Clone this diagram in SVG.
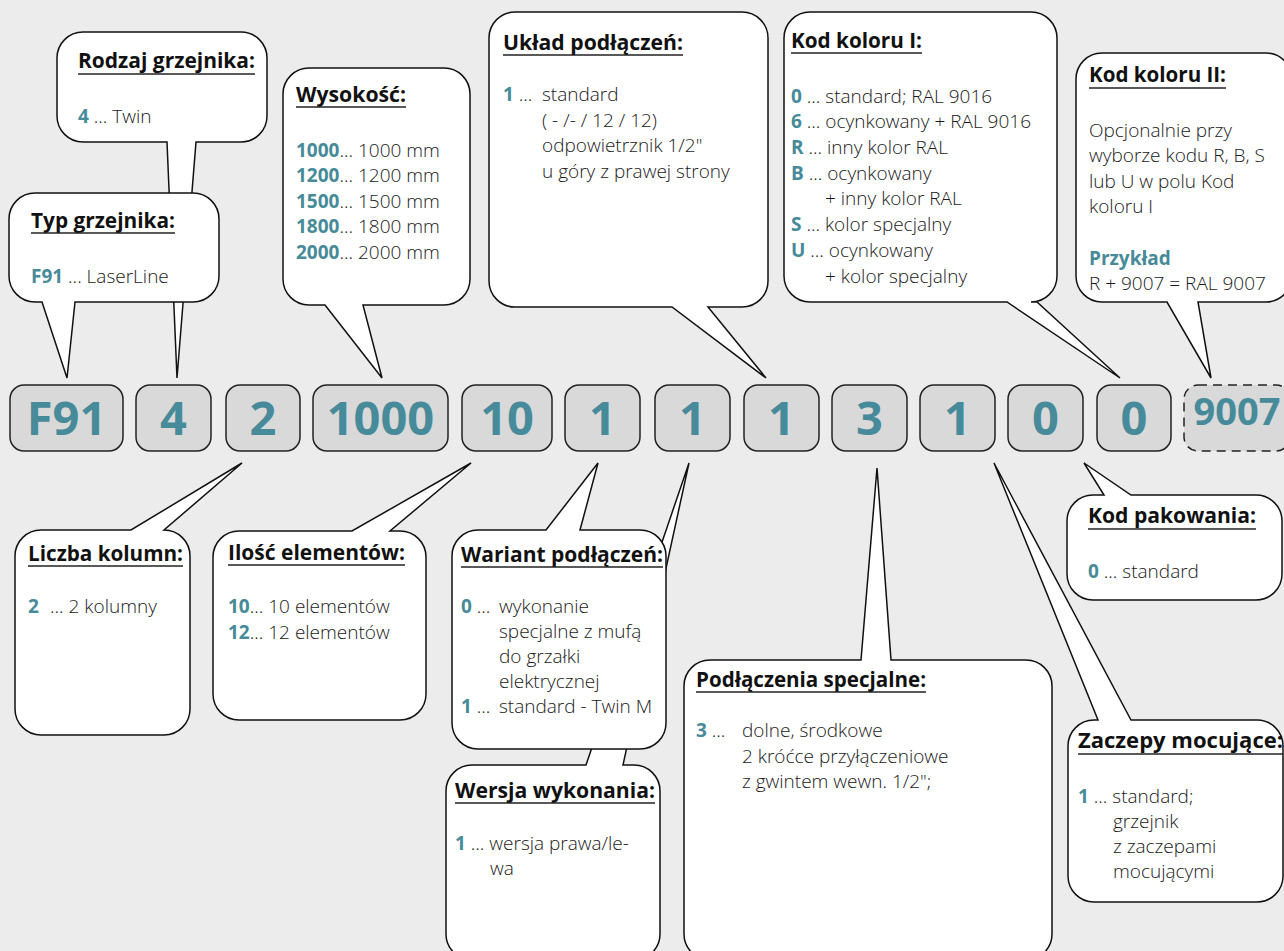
<svg xmlns="http://www.w3.org/2000/svg" width="1284" height="951" viewBox="0 0 1284 951">
<style>
.bg{fill:#ececec}
.b{fill:#fff;stroke:#111;stroke-width:1.5;stroke-linejoin:miter}
.box{fill:#d9d9d9;stroke:#222;stroke-width:1.5}
.dash{stroke-dasharray:9 6}
.code{font-family:"Open Sans","DejaVu Sans",sans-serif;font-weight:700;font-size:47px;fill:#478a99;text-anchor:middle}
.t{font-family:"Open Sans","DejaVu Sans",sans-serif;font-weight:700;font-size:22px;fill:#111}
.u{stroke:#222;stroke-width:1.5}
.x{font-family:"Open Sans","DejaVu Sans",sans-serif;font-weight:300;font-size:19px;fill:#1a1a1a}
.k{font-weight:700;fill:#478a99}
</style>
<rect class="bg" x="0" y="0" width="1284" height="951"/>

<g id="code-boxes">
  <g id="box-f91"><rect class="box" x="10" y="385" width="113" height="66" rx="14"/><text class="code" x="66.5" y="435">F91</text></g>
  <g id="box-4"><rect class="box" x="136" y="385" width="75" height="66" rx="14"/><text class="code" x="173.5" y="435">4</text></g>
  <g id="box-2"><rect class="box" x="226" y="385" width="74" height="66" rx="14"/><text class="code" x="263" y="435">2</text></g>
  <g id="box-1000"><rect class="box" x="313" y="385" width="135" height="66" rx="14"/><text class="code" x="380.5" y="435">1000</text></g>
  <g id="box-10"><rect class="box" x="462" y="385" width="90" height="66" rx="14"/><text class="code" x="507" y="435">10</text></g>
  <g id="box-1a"><rect class="box" x="565" y="385" width="75" height="66" rx="14"/><text class="code" x="602.5" y="435">1</text></g>
  <g id="box-1b"><rect class="box" x="655" y="385" width="75" height="66" rx="14"/><text class="code" x="692.5" y="435">1</text></g>
  <g id="box-1c"><rect class="box" x="744" y="385" width="75" height="66" rx="14"/><text class="code" x="781.5" y="435">1</text></g>
  <g id="box-3"><rect class="box" x="832" y="385" width="75" height="66" rx="14"/><text class="code" x="869.5" y="435">3</text></g>
  <g id="box-1d"><rect class="box" x="920" y="385" width="75" height="66" rx="14"/><text class="code" x="957.5" y="435">1</text></g>
  <g id="box-0a"><rect class="box" x="1008" y="385" width="75" height="66" rx="14"/><text class="code" x="1045.5" y="435">0</text></g>
  <g id="box-0b"><rect class="box" x="1097" y="385" width="74" height="66" rx="14"/><text class="code" x="1134" y="435">0</text></g>
  <g id="box-9007"><rect class="box dash" x="1184" y="385" width="106" height="66" rx="14"/><text class="code" x="1237" y="425" style="font-size:38px">9007</text></g>
</g>

<g id="connectors">
  <!-- callout tails are drawn as part of each callout outline -->
</g>

<g id="rodzaj">
  <path class="b" d="M83 32 H241 A26 26 0 0 1 267 58 V116 A26 26 0 0 1 241 142 H196 L177 378 L167 142 H83 A26 26 0 0 1 57 116 V58 A26 26 0 0 1 83 32 Z"/>
  <text class="t" x="78" y="68" textLength="177" lengthAdjust="spacingAndGlyphs">Rodzaj grzejnika:</text>
  <line class="u" x1="78" y1="74" x2="255" y2="74"/>
  <text class="x" x="78" y="123"><tspan class="k">4</tspan> ... Twin</text>
</g>

<g id="typ">
  <path class="b" d="M35 193 H193 A26 26 0 0 1 219 219 V276 A26 26 0 0 1 193 302 H75 L67 378 L42 302 H35 A26 26 0 0 1 9 276 V219 A26 26 0 0 1 35 193 Z"/>
  <text class="t" x="31" y="228" textLength="144" lengthAdjust="spacingAndGlyphs">Typ grzejnika:</text>
  <line class="u" x1="31" y1="233" x2="175" y2="233"/>
  <text class="x" x="31" y="283"><tspan class="k">F91</tspan> ... LaserLine</text>
</g>

<g id="wysokosc">
  <path class="b" d="M309 68 H444 A26 26 0 0 1 470 94 V279 A26 26 0 0 1 444 305 H363 L382 378 L325 305 H309 A26 26 0 0 1 283 279 V94 A26 26 0 0 1 309 68 Z"/>
  <text class="t" x="296" y="102" textLength="110" lengthAdjust="spacingAndGlyphs">Wysokość:</text>
  <line class="u" x1="296" y1="107" x2="406" y2="107"/>
  <text class="x" x="296" y="157"><tspan class="k">1000</tspan>... 1000 mm</text>
  <text class="x" x="296" y="182"><tspan class="k">1200</tspan>... 1200 mm</text>
  <text class="x" x="296" y="208"><tspan class="k">1500</tspan>... 1500 mm</text>
  <text class="x" x="296" y="233"><tspan class="k">1800</tspan>... 1800 mm</text>
  <text class="x" x="296" y="259"><tspan class="k">2000</tspan>... 2000 mm</text>
</g>

<g id="uklad">
  <path class="b" d="M515 12 H742 A26 26 0 0 1 768 38 V281 A26 26 0 0 1 742 307 H708 L766 378 L672 307 H515 A26 26 0 0 1 489 281 V38 A26 26 0 0 1 515 12 Z"/>
  <text class="t" x="503" y="50" textLength="180" lengthAdjust="spacingAndGlyphs">Układ podłączeń:</text>
  <line class="u" x1="503" y1="55" x2="683" y2="55"/>
  <text class="x" x="503" y="101"><tspan class="k">1</tspan> ...</text>
  <text class="x" x="542" y="101">standard</text>
  <text class="x" x="542" y="127">( - /- / 12 / 12)</text>
  <text class="x" x="542" y="152">odpowietrznik 1/2"</text>
  <text class="x" x="542" y="178">u góry z prawej strony</text>
</g>

<g id="kod-koloru-1">
  <path class="b" d="M810 12 H1031 A26 26 0 0 1 1057 38 V276 A26 26 0 0 1 1031 302 L1037 302 L1120 378 L1007 302 H810 A26 26 0 0 1 784 276 V38 A26 26 0 0 1 810 12 Z"/>
  <text class="t" x="791" y="48" textLength="131" lengthAdjust="spacingAndGlyphs">Kod koloru I:</text>
  <line class="u" x1="791" y1="53" x2="922" y2="53"/>
  <text class="x" x="791" y="103"><tspan class="k">0</tspan> ... standard; RAL 9016</text>
  <text class="x" x="791" y="128"><tspan class="k">6</tspan> ... ocynkowany + RAL 9016</text>
  <text class="x" x="791" y="154"><tspan class="k">R</tspan> ... inny kolor RAL</text>
  <text class="x" x="791" y="180"><tspan class="k">B</tspan> ... ocynkowany</text>
  <text class="x" x="825" y="205">+ inny kolor RAL</text>
  <text class="x" x="791" y="231"><tspan class="k">S</tspan> ... kolor specjalny</text>
  <text class="x" x="791" y="257"><tspan class="k">U</tspan> ... ocynkowany</text>
  <text class="x" x="825" y="283">+ kolor specjalny</text>
</g>

<g id="kod-koloru-2">
  <path class="b" d="M1102 53 H1266 A26 26 0 0 1 1292 79 V276 A26 26 0 0 1 1266 302 H1198 L1211 378 L1167 302 H1102 A26 26 0 0 1 1076 276 V79 A26 26 0 0 1 1102 53 Z"/>
  <text class="t" x="1089" y="82" textLength="137" lengthAdjust="spacingAndGlyphs">Kod koloru II:</text>
  <line class="u" x1="1089" y1="88" x2="1226" y2="88"/>
  <text class="x" x="1089" y="137">Opcjonalnie przy</text>
  <text class="x" x="1089" y="162">wyborze kodu R, B, S</text>
  <text class="x" x="1089" y="188">lub U w polu Kod</text>
  <text class="x" x="1089" y="213">koloru I</text>
  <text class="x k" x="1089" y="265">Przykład</text>
  <text class="x" x="1089" y="290">R + 9007 = RAL 9007</text>
</g>

<g id="liczba-kolumn">
  <path class="b" d="M41 530 H131 L242 463 L164 530 A26 26 0 0 1 190 556 V709 A26 26 0 0 1 164 735 H41 A26 26 0 0 1 15 709 V556 A26 26 0 0 1 41 530 Z"/>
  <text class="t" x="28" y="561" textLength="155" lengthAdjust="spacingAndGlyphs">Liczba kolumn:</text>
  <line class="u" x1="28" y1="566" x2="183" y2="566"/>
  <text class="x" x="28" y="613"><tspan class="k">2</tspan><tspan x="50">... 2 kolumny</tspan></text>
</g>

<g id="ilosc-elementow">
  <path class="b" d="M239 531 H352 L471 463 L390 531 H400 A26 26 0 0 1 426 557 V694 A26 26 0 0 1 400 720 H239 A26 26 0 0 1 213 694 V557 A26 26 0 0 1 239 531 Z"/>
  <text class="t" x="228" y="560" textLength="177" lengthAdjust="spacingAndGlyphs">Ilość elementów:</text>
  <line class="u" x1="228" y1="565" x2="405" y2="565"/>
  <text class="x" x="228" y="613"><tspan class="k">10</tspan>... 10 elementów</text>
  <text class="x" x="228" y="639"><tspan class="k">12</tspan>... 12 elementów</text>
</g>

<g id="wersja-wykonania">
  <path class="b" d="M472 765 H586 L689 463 L623 765 H634 A26 26 0 0 1 660 791 V934 A26 26 0 0 1 634 960 H472 A26 26 0 0 1 446 934 V791 A26 26 0 0 1 472 765 Z"/>
  <text class="t" x="455" y="798" textLength="200" lengthAdjust="spacingAndGlyphs">Wersja wykonania:</text>
  <line class="u" x1="455" y1="803" x2="655" y2="803"/>
  <text class="x" x="455" y="850"><tspan class="k">1</tspan> ... wersja prawa/le-</text>
  <text class="x" x="490" y="875">wa</text>
</g>

<g id="wariant-podlaczen">
  <path class="b" d="M478 530 H546 L598 463 L580 530 H640 A26 26 0 0 1 666 556 V723 A26 26 0 0 1 640 749 H478 A26 26 0 0 1 452 723 V556 A26 26 0 0 1 478 530 Z"/>
  <text class="t" x="461" y="562" textLength="202" lengthAdjust="spacingAndGlyphs">Wariant podłączeń:</text>
  <line class="u" x1="461" y1="567" x2="663" y2="567"/>
  <text class="x" x="461" y="613"><tspan class="k">0</tspan> ...</text>
  <text class="x" x="499" y="613">wykonanie</text>
  <text class="x" x="499" y="638">specjalne z mufą</text>
  <text class="x" x="499" y="663">do grzałki</text>
  <text class="x" x="499" y="688">elektrycznej</text>
  <text class="x" x="461" y="713"><tspan class="k">1</tspan> ...</text>
  <text class="x" x="499" y="713">standard - Twin M</text>
</g>

<g id="podlaczenia-specjalne">
  <path class="b" d="M710 660 H861 L877 468 L891 660 H1026 A26 26 0 0 1 1052 686 V934 A26 26 0 0 1 1026 960 H710 A26 26 0 0 1 684 934 V686 A26 26 0 0 1 710 660 Z"/>
  <text class="t" x="696" y="687" textLength="230" lengthAdjust="spacingAndGlyphs">Podłączenia specjalne:</text>
  <line class="u" x1="696" y1="692" x2="926" y2="692"/>
  <text class="x" x="696" y="737"><tspan class="k">3</tspan> ...</text>
  <text class="x" x="742" y="737">dolne, środkowe</text>
  <text class="x" x="742" y="763">2 króćce przyłączeniowe</text>
  <text class="x" x="742" y="788">z gwintem wewn. 1/2";</text>
</g>

<g id="kod-pakowania">
  <path class="b" d="M1093 495 H1104 L1084 463 L1131 495 H1256 A26 26 0 0 1 1282 521 V574 A26 26 0 0 1 1256 600 H1093 A26 26 0 0 1 1067 574 V521 A26 26 0 0 1 1093 495 Z"/>
  <text class="t" x="1088" y="523" textLength="168" lengthAdjust="spacingAndGlyphs">Kod pakowania:</text>
  <line class="u" x1="1088" y1="529" x2="1256" y2="529"/>
  <text class="x" x="1088" y="578"><tspan class="k">0</tspan> ... standard</text>
</g>

<g id="zaczepy-mocujace">
  <path class="b" d="M1094 720 H1098 L994 463 L1131 720 H1257 A26 26 0 0 1 1283 746 V876 A26 26 0 0 1 1257 902 H1094 A26 26 0 0 1 1068 876 V746 A26 26 0 0 1 1094 720 Z"/>
  <text class="t" x="1078" y="748" textLength="205" lengthAdjust="spacingAndGlyphs">Zaczepy mocujące:</text>
  <line class="u" x1="1078" y1="754" x2="1283" y2="754"/>
  <text class="x" x="1078" y="803"><tspan class="k">1</tspan> ... standard;</text>
  <text class="x" x="1113" y="828">grzejnik</text>
  <text class="x" x="1113" y="853">z zaczepami</text>
  <text class="x" x="1113" y="878">mocującymi</text>
</g>
</svg>
